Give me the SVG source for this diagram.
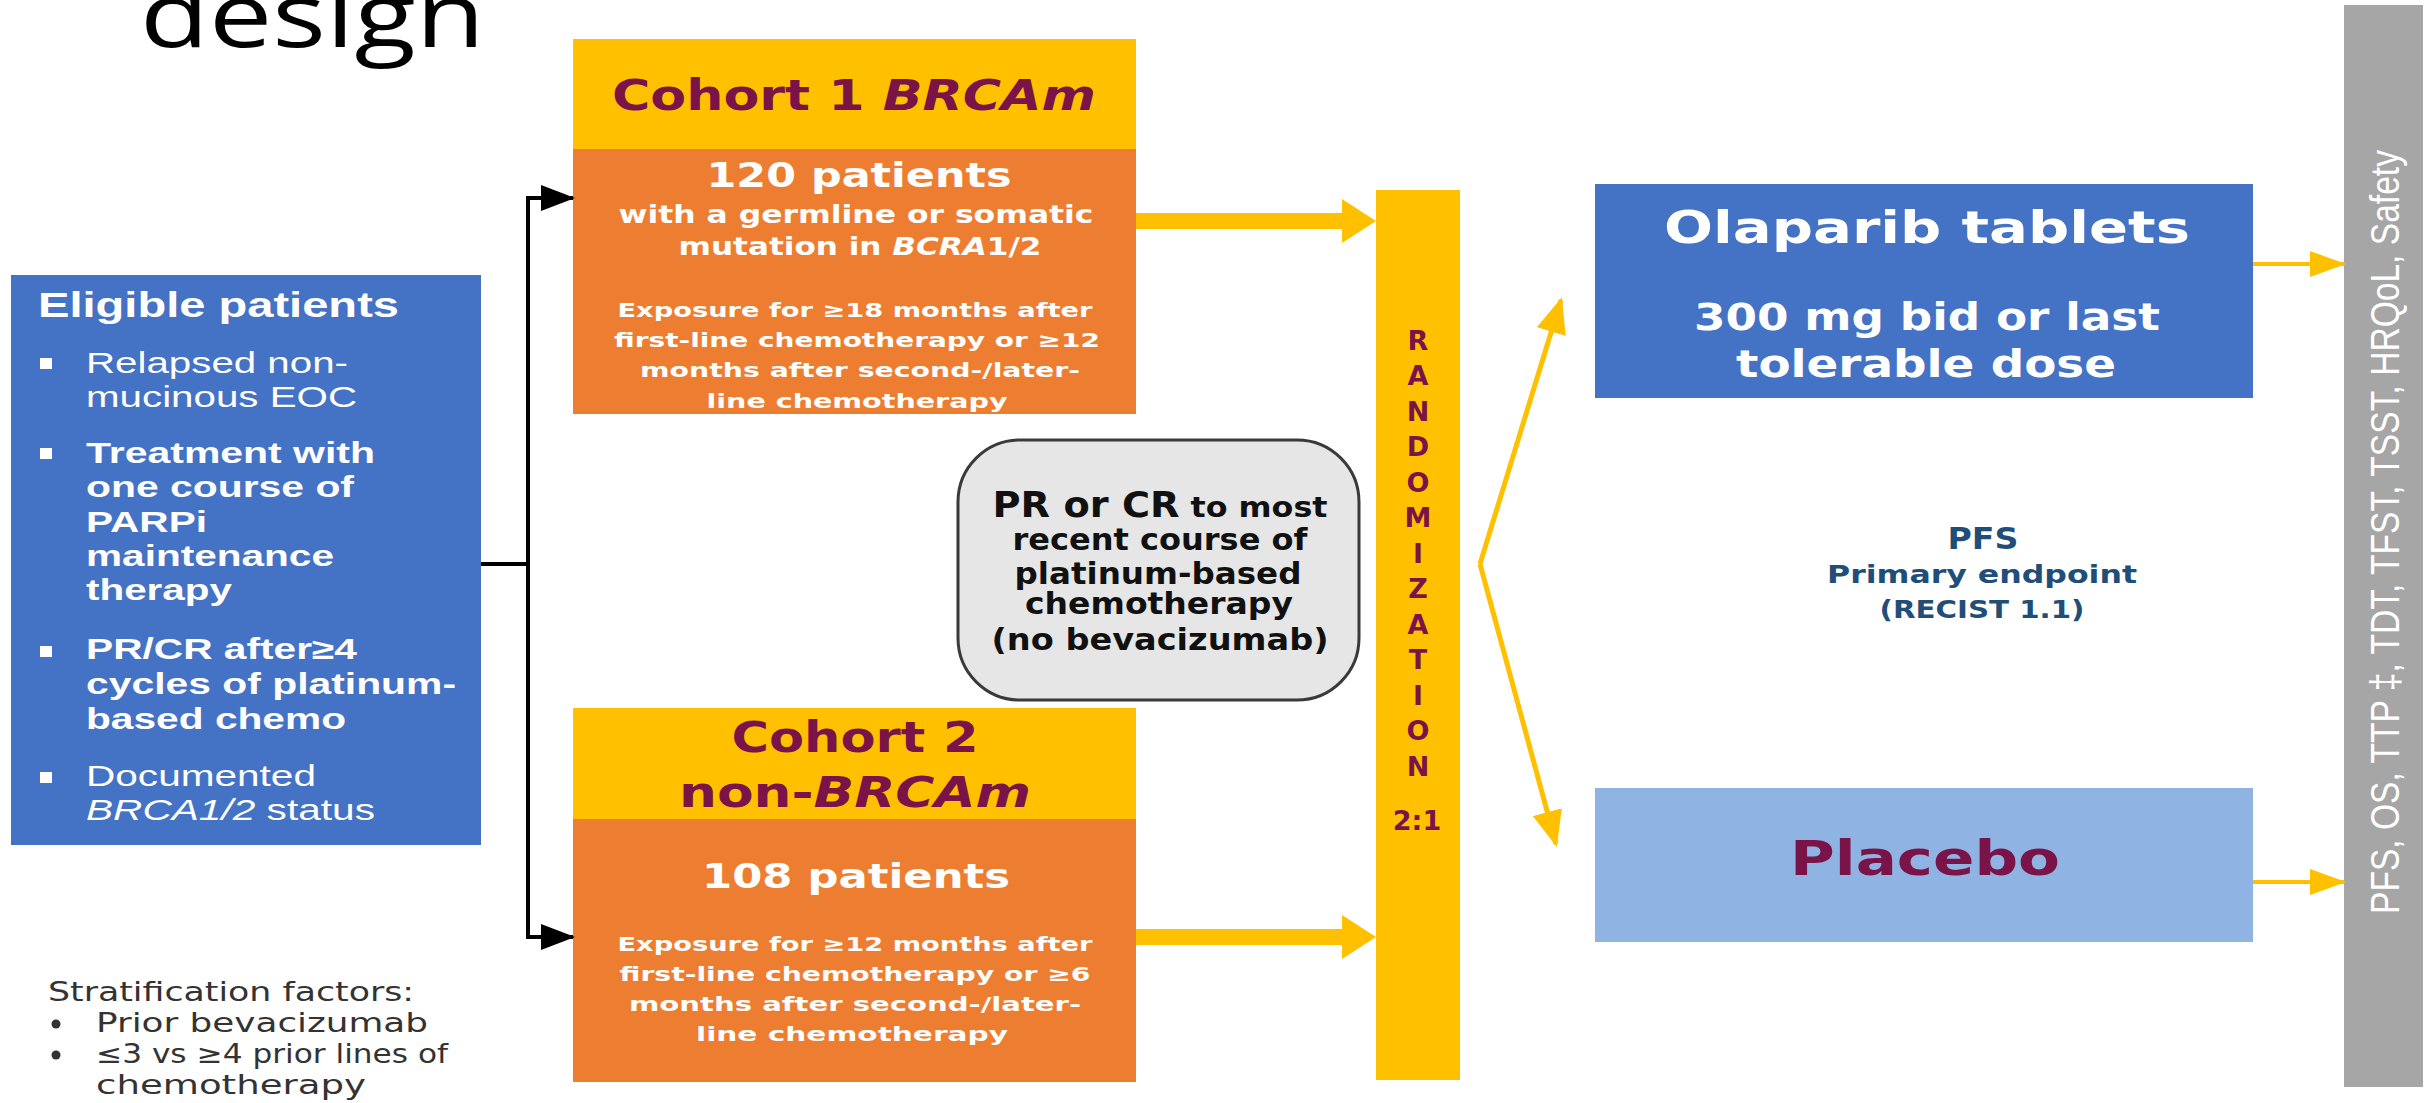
<svg xmlns="http://www.w3.org/2000/svg" width="2425" height="1103" viewBox="0 0 2425 1103">
<style>
.g{font-family:"DejaVu Sans","Liberation Sans",sans-serif;font-weight:bold}
.a{font-family:"Liberation Sans",Arial,sans-serif}
.w{fill:#ffffff}
.m{fill:#7A1448}
.b{font-weight:bold}
.i{font-style:italic}
.yl{stroke:#FFC000;fill:none}
</style>
<defs>
<marker id="hBlack" markerUnits="userSpaceOnUse" markerWidth="34" markerHeight="26" refX="32" refY="13" orient="auto"><path d="M0,0 L34,13 L0,26 z" fill="#000"/></marker>
<marker id="hThick" markerUnits="userSpaceOnUse" markerWidth="34" markerHeight="44" refX="22" refY="22" orient="auto"><path d="M0,0 L34,22 L0,44 z" fill="#FFC000"/></marker>
<marker id="hThin" markerUnits="userSpaceOnUse" markerWidth="36" markerHeight="30" refX="33" refY="15" orient="auto"><path d="M0,0 L36,15 L0,30 z" fill="#FFC000"/></marker>
<marker id="hOut" markerUnits="userSpaceOnUse" markerWidth="36" markerHeight="26" refX="34" refY="13" orient="auto"><path d="M0,0 L36,13 L0,26 z" fill="#FFC000"/></marker>
</defs>
<rect width="2425" height="1103" fill="#ffffff"/>

<g id="title">
<text x="140" y="47" font-family="'Open Sans',sans-serif" font-size="90" font-weight="500" fill="#000" textLength="345" lengthAdjust="spacingAndGlyphs">design</text>
</g>

<g id="eligible">
<rect x="11" y="275" width="470" height="570" fill="#4472C4"/>
<text class="a b w" x="38" y="317" font-size="35" textLength="361" lengthAdjust="spacingAndGlyphs">Eligible patients</text>
<g fill="#ffffff"><rect x="40" y="358" width="12" height="11"/><rect x="40" y="448" width="12" height="11"/><rect x="40" y="646" width="12" height="11"/><rect x="40" y="772" width="12" height="11"/></g>
<text class="a w" x="86" y="373" font-size="29" textLength="262" lengthAdjust="spacingAndGlyphs">Relapsed non-</text>
<text class="a w" x="86" y="407" font-size="29" textLength="271" lengthAdjust="spacingAndGlyphs">mucinous EOC</text>
<text class="a b w" x="86" y="463" font-size="29" textLength="289" lengthAdjust="spacingAndGlyphs">Treatment with</text>
<text class="a b w" x="86" y="497" font-size="29" textLength="268" lengthAdjust="spacingAndGlyphs">one course of</text>
<text class="a b w" x="86" y="532" font-size="29" textLength="121" lengthAdjust="spacingAndGlyphs">PARPi</text>
<text class="a b w" x="86" y="566" font-size="29" textLength="248" lengthAdjust="spacingAndGlyphs">maintenance</text>
<text class="a b w" x="86" y="600" font-size="29" textLength="146" lengthAdjust="spacingAndGlyphs">therapy</text>
<text class="a b w" x="86" y="659" font-size="29" textLength="271" lengthAdjust="spacingAndGlyphs">PR/CR after≥4</text>
<text class="a b w" x="86" y="694" font-size="29" textLength="370" lengthAdjust="spacingAndGlyphs">cycles of platinum-</text>
<text class="a b w" x="86" y="729" font-size="29" textLength="260" lengthAdjust="spacingAndGlyphs">based chemo</text>
<text class="a w" x="86" y="786" font-size="29" textLength="230" lengthAdjust="spacingAndGlyphs">Documented</text>
<text class="a w" x="86" y="820" font-size="29" textLength="289" lengthAdjust="spacingAndGlyphs"><tspan class="i">BRCA1/2</tspan> status</text>
</g>

<g id="cohort1">
<rect x="573" y="39" width="563" height="111" fill="#FFC000"/>
<rect x="573" y="149" width="563" height="265" fill="#ED7D31"/>
<text class="g m" x="854" y="110" font-size="42" text-anchor="middle" textLength="484" lengthAdjust="spacingAndGlyphs">Cohort 1 <tspan class="i">BRCAm</tspan></text>
<text class="g w" x="859" y="187" font-size="33" text-anchor="middle" textLength="305" lengthAdjust="spacingAndGlyphs">120 patients</text>
<text class="g w" x="856" y="223" font-size="24" text-anchor="middle" textLength="475" lengthAdjust="spacingAndGlyphs">with a germline or somatic</text>
<text class="g w" x="860" y="255" font-size="24" text-anchor="middle" textLength="363" lengthAdjust="spacingAndGlyphs">mutation in <tspan class="i">BCRA</tspan>1/2</text>
<text class="g w" x="855" y="317" font-size="20" text-anchor="middle" textLength="475" lengthAdjust="spacingAndGlyphs">Exposure for ≥18 months after</text>
<text class="g w" x="857" y="347" font-size="20" text-anchor="middle" textLength="486" lengthAdjust="spacingAndGlyphs">first-line chemotherapy or ≥12</text>
<text class="g w" x="860" y="377" font-size="20" text-anchor="middle" textLength="440" lengthAdjust="spacingAndGlyphs">months after second-/later-</text>
<text class="g w" x="857" y="408" font-size="20" text-anchor="middle" textLength="301" lengthAdjust="spacingAndGlyphs">line chemotherapy</text>
</g>

<g id="cohort2">
<rect x="573" y="708" width="563" height="112" fill="#FFC000"/>
<rect x="573" y="819" width="563" height="263" fill="#ED7D31"/>
<text class="g m" x="855" y="752" font-size="42" text-anchor="middle" textLength="247" lengthAdjust="spacingAndGlyphs">Cohort 2</text>
<text class="g m" x="855" y="807" font-size="42" text-anchor="middle" textLength="352" lengthAdjust="spacingAndGlyphs">non-<tspan class="i">BRCAm</tspan></text>
<text class="g w" x="856" y="888" font-size="33" text-anchor="middle" textLength="308" lengthAdjust="spacingAndGlyphs">108 patients</text>
<text class="g w" x="855" y="951" font-size="20" text-anchor="middle" textLength="475" lengthAdjust="spacingAndGlyphs">Exposure for ≥12 months after</text>
<text class="g w" x="855" y="981" font-size="20" text-anchor="middle" textLength="471" lengthAdjust="spacingAndGlyphs">first-line chemotherapy or ≥6</text>
<text class="g w" x="855" y="1011" font-size="20" text-anchor="middle" textLength="452" lengthAdjust="spacingAndGlyphs">months after second-/later-</text>
<text class="g w" x="852" y="1041" font-size="20" text-anchor="middle" textLength="312" lengthAdjust="spacingAndGlyphs">line chemotherapy</text>
</g>

<g id="criteria">
<rect x="958" y="440" width="401" height="260" rx="62" ry="62" fill="#E6E6E6" stroke="#3A3A3A" stroke-width="3"/>
<text class="g" x="1160" y="517" fill="#111" text-anchor="middle" textLength="335" lengthAdjust="spacingAndGlyphs"><tspan font-size="35">PR or CR</tspan><tspan font-size="29"> to most</tspan></text>
<text class="g" x="1160" y="550" fill="#111" font-size="30" text-anchor="middle" textLength="295" lengthAdjust="spacingAndGlyphs">recent course of</text>
<text class="g" x="1158" y="584" fill="#111" font-size="30" text-anchor="middle" textLength="287" lengthAdjust="spacingAndGlyphs">platinum-based</text>
<text class="g" x="1159" y="614" fill="#111" font-size="30" text-anchor="middle" textLength="268" lengthAdjust="spacingAndGlyphs">chemotherapy</text>
<text class="g" x="1160" y="650" fill="#111" font-size="30" text-anchor="middle" textLength="337" lengthAdjust="spacingAndGlyphs">(no bevacizumab)</text>
</g>

<g id="randomization">
<rect x="1376" y="190" width="84" height="890" fill="#FFC000"/>
<g class="g m" font-size="27" text-anchor="middle">
<text x="1418" y="350">R</text>
<text x="1418" y="385">A</text>
<text x="1418" y="421">N</text>
<text x="1418" y="456">D</text>
<text x="1418" y="492">O</text>
<text x="1418" y="527">M</text>
<text x="1418" y="563">I</text>
<text x="1418" y="598">Z</text>
<text x="1418" y="634">A</text>
<text x="1418" y="669">T</text>
<text x="1418" y="705">I</text>
<text x="1418" y="740">O</text>
<text x="1418" y="776">N</text>
<text x="1417" y="830">2:1</text>
</g>
</g>

<g id="olaparib">
<rect x="1595" y="184" width="658" height="214" fill="#4472C4"/>
<text class="g w" x="1927" y="243" font-size="45" text-anchor="middle" textLength="526" lengthAdjust="spacingAndGlyphs">Olaparib tablets</text>
<text class="g w" x="1927" y="330" font-size="37" text-anchor="middle" textLength="466" lengthAdjust="spacingAndGlyphs">300 mg bid or last</text>
<text class="g w" x="1926" y="377" font-size="37" text-anchor="middle" textLength="380" lengthAdjust="spacingAndGlyphs">tolerable dose</text>
</g>

<g id="pfs">
<text class="g" x="1983" y="549" font-size="30" fill="#1F4E79" text-anchor="middle" textLength="71" lengthAdjust="spacingAndGlyphs">PFS</text>
<text class="g" x="1982" y="583" font-size="24" fill="#1F4E79" text-anchor="middle" textLength="310" lengthAdjust="spacingAndGlyphs">Primary endpoint</text>
<text class="g" x="1982" y="618" font-size="24" fill="#1F4E79" text-anchor="middle" textLength="205" lengthAdjust="spacingAndGlyphs">(RECIST 1.1)</text>
</g>

<g id="placebo">
<rect x="1595" y="788" width="658" height="154" fill="#8FB3E2"/>
<text class="g m" x="1925" y="875" font-size="48" text-anchor="middle" textLength="270" lengthAdjust="spacingAndGlyphs">Placebo</text>
</g>

<g id="endpoints">
<rect x="2344" y="5" width="79" height="1082" fill="#A6A6A6"/>
<text class="a" x="0" y="0" font-size="40" fill="#ffffff" text-anchor="middle" transform="translate(2399,532) rotate(-90)" textLength="764" lengthAdjust="spacingAndGlyphs">PFS, OS, TTP ‡, TDT, TFST, TSST, HRQoL, Safety</text>
</g>

<g id="stratification" class="g" fill="#333333">
<text x="48" y="1001" font-size="26" font-weight="normal" textLength="366" lengthAdjust="spacingAndGlyphs">Stratification factors:</text>
<circle cx="56" cy="1024" r="4.5"/>
<text x="96" y="1032" font-size="26" font-weight="normal" textLength="332" lengthAdjust="spacingAndGlyphs">Prior bevacizumab</text>
<circle cx="56" cy="1055" r="4.5"/>
<text x="96" y="1063" font-size="26" font-weight="normal" textLength="352" lengthAdjust="spacingAndGlyphs">≤3 vs ≥4 prior lines of</text>
<text x="96" y="1094" font-size="26" font-weight="normal" textLength="270" lengthAdjust="spacingAndGlyphs">chemotherapy</text>
</g>

<g id="connectors">
<path d="M481,564 H528" stroke="#000" stroke-width="4" fill="none"/>
<path d="M528,936 V198 H573" stroke="#000" stroke-width="4" fill="none" marker-end="url(#hBlack)"/>
<path d="M528,564 V937 H573" stroke="#000" stroke-width="4" fill="none" marker-end="url(#hBlack)"/>
<line class="yl" x1="1136" y1="221" x2="1364" y2="221" stroke-width="16" marker-end="url(#hThick)"/>
<line class="yl" x1="1136" y1="937" x2="1364" y2="937" stroke-width="16" marker-end="url(#hThick)"/>
<line class="yl" x1="1480" y1="564" x2="1561" y2="300" stroke-width="5" marker-end="url(#hThin)"/>
<line class="yl" x1="1480" y1="564" x2="1556" y2="844" stroke-width="5" marker-end="url(#hThin)"/>
<line class="yl" x1="2253" y1="264" x2="2344" y2="264" stroke-width="4" marker-end="url(#hOut)"/>
<line class="yl" x1="2253" y1="882" x2="2344" y2="882" stroke-width="4" marker-end="url(#hOut)"/>
</g>
</svg>
